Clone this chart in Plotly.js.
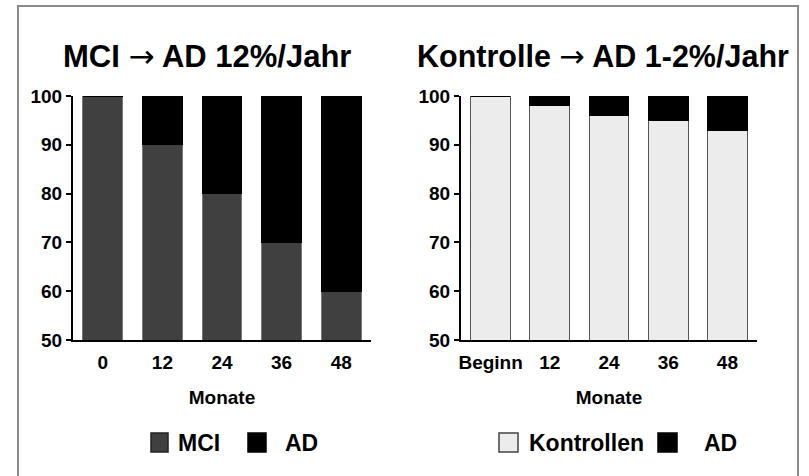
<!DOCTYPE html>
<html>
<head>
<meta charset="utf-8">
<script src="https://cdn.plot.ly/plotly-3.0.1.min.js"></script>
<style>html,body{margin:0;padding:0;background:#fff;}#chart{width:809px;height:476px;}</style>
</head>
<body>
<div id="chart"></div>
<script>
// ---- data ----
const monthsLeft = ["0", "12", "24", "36", "48"];
const monthsRight = ["Beginn", "12", "24", "36", "48"];
const mciPct = [100, 90, 80, 70, 60];
const adFromMci = [0, 10, 20, 30, 40];
const kontrollenPct = [100, 98, 96, 95, 93];
const adFromKontrollen = [0, 2, 4, 5, 7];
const arrow = '<span style="font-family:DejaVu Sans;font-weight:normal">\u2192</span>';
const titleLeft = "MCI " + arrow + " AD 12%/Jahr";
const titleRight = "Kontrolle " + arrow + " AD 1-2%/Jahr";
const axisTitle = "Monate";
const yTicks = [50, 60, 70, 80, 90, 100];

// ---- styles ----
const FONT = "Liberation Sans, Arial, sans-serif";
const W = 809, H = 476;
const px = v => v / W;
const py = v => 1 - v / H;

const traces = [
  {type: "bar", x: monthsLeft, y: mciPct, name: "MCI", xaxis: "x", yaxis: "y",
   marker: {color: "#404040", line: {color: "#777", width: 1}}, showlegend: false, hoverinfo: "none"},
  {type: "bar", x: monthsLeft, y: adFromMci, name: "AD", xaxis: "x", yaxis: "y",
   marker: {color: "#000", line: {color: "#000", width: 1}}, showlegend: false, hoverinfo: "none"},
  {type: "bar", x: monthsRight, y: kontrollenPct, name: "Kontrollen", xaxis: "x2", yaxis: "y2",
   marker: {color: "#ececec", line: {color: "#555", width: 1}}, showlegend: false, hoverinfo: "none"},
  {type: "bar", x: monthsRight, y: adFromKontrollen, name: "AD", xaxis: "x2", yaxis: "y2",
   marker: {color: "#000", line: {color: "#000", width: 1}}, showlegend: false, hoverinfo: "none"}
];

const tickFont = {family: FONT, size: 19, color: "#000", weight: "bold"};
function xAx(dom, anchor) {
  return {domain: dom, anchor: anchor, type: "category", showline: true, linecolor: "#000", linewidth: 2,
    ticks: "", ticklabelstandoff: 4, showgrid: false, zeroline: false, tickfont: tickFont, fixedrange: true,
    title: {text: axisTitle, font: {family: FONT, size: 19, color: "#000", weight: "bold"}, standoff: 19}};
}
function yAx(dom, anchor) {
  return {domain: dom, anchor: anchor, range: [50, 100], tickvals: yTicks, ticktext: yTicks.map(String),
    showline: true, linecolor: "#000", linewidth: 2, ticks: "outside", ticklen: 5, tickwidth: 2, tickcolor: "#000",
    showgrid: false, zeroline: false, tickfont: tickFont, fixedrange: true};
}

const yDom = [py(340), py(96)];
const legendY0 = 433, legendY1 = 452;
function sq(x0, x1, fill, line) {
  return {type: "rect", xref: "paper", yref: "paper", x0: px(x0), x1: px(x1), y0: py(legendY1), y1: py(legendY0),
    fillcolor: fill, line: {color: line, width: 1.5}};
}
function txt(x, t, anchor) {
  return {xref: "paper", yref: "paper", x: px(x), y: py(443), xanchor: anchor || "left", yanchor: "middle",
    text: t, showarrow: false, font: {family: FONT, size: 23, color: "#000", weight: "bold"}};
}

const layout = {
  width: W, height: H, margin: {l: 0, r: 0, t: 0, b: 0},
  paper_bgcolor: "#fff", plot_bgcolor: "#fff",
  barmode: "stack", bargap: 0.33,
  xaxis: xAx([px(73), px(371)], "y"),
  yaxis: yAx(yDom, "x"),
  xaxis2: xAx([px(461), px(757)], "y2"),
  yaxis2: yAx(yDom, "x2"),
  shapes: [
    {type: "rect", xref: "paper", yref: "paper", x0: px(18), x1: px(798), y0: -0.05, y1: py(6),
     line: {color: "#8a8a8a", width: 2}, fillcolor: "rgba(0,0,0,0)", layer: "below"},
    sq(151, 168, "#404040", "#222"),
    sq(248, 266, "#000", "#000"),
    sq(499, 518, "#ececec", "#444"),
    sq(658, 677, "#000", "#000")
  ],
  annotations: [
    {xref: "paper", yref: "paper", x: px(207.5), y: py(56), xanchor: "center", yanchor: "middle",
     text: titleLeft, showarrow: false, font: {family: FONT, size: 31, color: "#000", weight: "bold"}},
    {xref: "paper", yref: "paper", x: px(602.5), y: py(56), xanchor: "center", yanchor: "middle",
     text: titleRight, showarrow: false, font: {family: FONT, size: 30.5, color: "#000", weight: "bold"}},
    txt(176, "MCI"), txt(283, "AD"), txt(527, "Kontrollen"), txt(702, "AD")
  ]
};

Plotly.newPlot("chart", traces, layout, {displayModeBar: false, staticPlot: true});
</script>
</body>
</html>
